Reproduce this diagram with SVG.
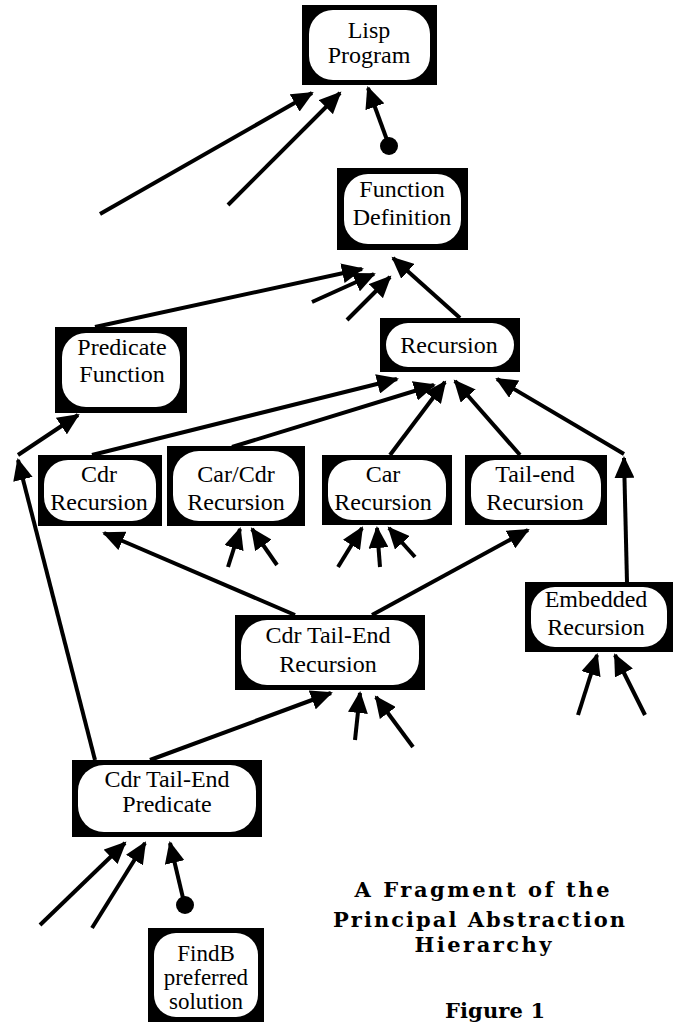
<svg xmlns="http://www.w3.org/2000/svg" width="677" height="1025" viewBox="0 0 677 1025">
<style>
.box{fill:#000}
.in{fill:#fff}
.t{font-family:"Liberation Serif","Times New Roman",serif;font-size:24px;fill:#000;text-anchor:middle}
.s{font-size:23px}
.cap{font-family:"DejaVu Serif","Liberation Serif",serif;font-size:21px;font-weight:bold;fill:#000;text-anchor:middle}
.e{stroke:#000;stroke-width:4;fill:none;marker-end:url(#ah)}
</style>
<defs>
<marker id="ah" markerWidth="24" markerHeight="20" refX="20" refY="10" orient="auto" markerUnits="userSpaceOnUse">
<path d="M0,0 L22,10 L0,20 z" fill="#000"/>
</marker>
</defs>
<rect width="677" height="1025" fill="#fff"/>

<g id="connectors">
<line class="e" x1="100" y1="214" x2="312" y2="93"/>
<line class="e" x1="228" y1="205" x2="340" y2="93"/>
<line class="e" x1="387" y1="140" x2="368" y2="88"/>
<line class="e" x1="95" y1="327" x2="362" y2="269"/>
<line class="e" x1="312" y1="302" x2="374" y2="274"/>
<line class="e" x1="347" y1="320" x2="390" y2="277"/>
<line class="e" x1="460" y1="318" x2="393" y2="258"/>
<line class="e" x1="92" y1="455" x2="397" y2="379"/>
<line class="e" x1="232" y1="447" x2="434" y2="385"/>
<line class="e" x1="390" y1="455" x2="445" y2="382"/>
<line class="e" x1="520" y1="455" x2="455" y2="381"/>
<line class="e" x1="627" y1="582" x2="624" y2="458"/>
<line class="e" x1="624" y1="454" x2="497" y2="379"/>
<line class="e" x1="95" y1="760" x2="18" y2="460"/>
<line class="e" x1="18" y1="455" x2="78" y2="415"/>
<line class="e" x1="295" y1="615" x2="104" y2="533"/>
<line class="e" x1="372" y1="615" x2="528" y2="530"/>
<line class="e" x1="228" y1="567" x2="240" y2="529"/>
<line class="e" x1="277" y1="565" x2="252" y2="529"/>
<line class="e" x1="338" y1="567" x2="362" y2="528"/>
<line class="e" x1="380" y1="567" x2="377" y2="528"/>
<line class="e" x1="415" y1="557" x2="389" y2="528"/>
<line class="e" x1="150" y1="760" x2="331" y2="693"/>
<line class="e" x1="355" y1="740" x2="360" y2="693"/>
<line class="e" x1="413" y1="747" x2="376" y2="697"/>
<line class="e" x1="578" y1="715" x2="597" y2="655"/>
<line class="e" x1="645" y1="715" x2="615" y2="655"/>
<line class="e" x1="40" y1="925" x2="125" y2="843"/>
<line class="e" x1="92" y1="928" x2="145" y2="843"/>
<line class="e" x1="183" y1="898" x2="170" y2="843"/>
<circle cx="389" cy="146" r="9" fill="#000"/>
<circle cx="185" cy="905" r="9" fill="#000"/>
</g>

<g id="lisp-program">
<rect class="box" x="302" y="5" width="135" height="80"/>
<rect class="in" x="309" y="10" width="121" height="70" rx="24"/>
<text class="t" x="369" y="38">Lisp</text>
<text class="t" x="369" y="63">Program</text>
</g>

<g id="function-definition">
<rect class="box" x="337" y="168" width="131" height="82"/>
<rect class="in" x="344" y="174" width="117" height="70" rx="24"/>
<text class="t" x="402" y="197">Function</text>
<text class="t" x="402" y="225">Definition</text>
</g>

<g id="predicate-function">
<rect class="box" x="55" y="327" width="132" height="86"/>
<rect class="in" x="62" y="333" width="118" height="74" rx="24"/>
<text class="t" x="122" y="355">Predicate</text>
<text class="t" x="122" y="382">Function</text>
</g>

<g id="recursion">
<rect class="box" x="380" y="318" width="140" height="54"/>
<rect class="in" x="386" y="323" width="128" height="44" rx="22"/>
<text class="t" x="449" y="353">Recursion</text>
</g>

<g id="cdr-recursion">
<rect class="box" x="38" y="455" width="124" height="71"/>
<rect class="in" x="44" y="460" width="112" height="61" rx="24"/>
<text class="t" x="99" y="482">Cdr</text>
<text class="t" x="99" y="510">Recursion</text>
</g>

<g id="car-cdr-recursion">
<rect class="box" x="167" y="446" width="138" height="80"/>
<rect class="in" x="173" y="451" width="126" height="70" rx="26"/>
<text class="t" x="236" y="482">Car/Cdr</text>
<text class="t" x="236" y="510">Recursion</text>
</g>

<g id="car-recursion">
<rect class="box" x="322" y="455" width="130" height="70"/>
<rect class="in" x="328" y="460" width="118" height="60" rx="24"/>
<text class="t" x="383" y="482">Car</text>
<text class="t" x="383" y="510">Recursion</text>
</g>

<g id="tail-end-recursion">
<rect class="box" x="465" y="455" width="142" height="70"/>
<rect class="in" x="471" y="460" width="130" height="60" rx="24"/>
<text class="t" x="535" y="482">Tail-end</text>
<text class="t" x="535" y="510">Recursion</text>
</g>

<g id="cdr-tail-end-recursion">
<rect class="box" x="235" y="615" width="190" height="75"/>
<rect class="in" x="241" y="620" width="178" height="65" rx="26"/>
<text class="t" x="328" y="643">Cdr Tail-End</text>
<text class="t" x="328" y="672">Recursion</text>
</g>

<g id="embedded-recursion">
<rect class="box" x="525" y="582" width="148" height="70"/>
<rect class="in" x="531" y="587" width="136" height="60" rx="24"/>
<text class="t" x="596" y="607">Embedded</text>
<text class="t" x="596" y="635">Recursion</text>
</g>

<g id="cdr-tail-end-predicate">
<rect class="box" x="72" y="760" width="190" height="77"/>
<rect class="in" x="78" y="765" width="178" height="67" rx="26"/>
<text class="t" x="167" y="787">Cdr Tail-End</text>
<text class="t" x="167" y="812">Predicate</text>
</g>

<g id="findb-preferred-solution">
<rect class="box" x="148" y="928" width="116" height="94"/>
<rect class="in" x="154" y="933" width="104" height="84" rx="22"/>
<text class="t s" x="206" y="961">FindB</text>
<text class="t s" x="206" y="985">preferred</text>
<text class="t s" x="206" y="1009">solution</text>
</g>

<g id="caption">
<text class="cap" x="482" y="897" textLength="255" lengthAdjust="spacing">A Fragment of the</text>
<text class="cap" x="479" y="927" textLength="292" lengthAdjust="spacing">Principal Abstraction</text>
<text class="cap" x="483" y="952" textLength="137" lengthAdjust="spacing">Hierarchy</text>
<text class="cap" x="495" y="1018" textLength="100" lengthAdjust="spacing">Figure 1</text>
</g>
</svg>
